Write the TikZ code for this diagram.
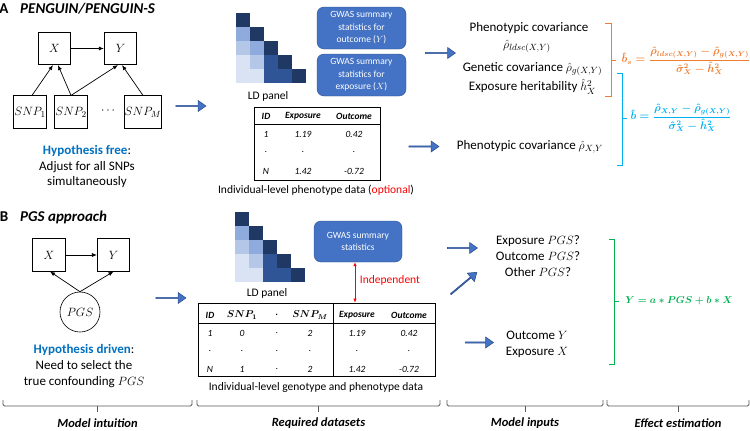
\documentclass[tikz,border=0pt]{standalone}
\usepackage{amsmath}
\usepackage{fontspec}
\setmainfont{Carlito}
\usetikzlibrary{arrows.meta,shapes.arrows,positioning}

\definecolor{hypblue}{HTML}{0070C0}
\definecolor{boxfill}{HTML}{4472C4}
\definecolor{boxedge}{HTML}{2F528F}
\definecolor{ldnavy}{HTML}{1F3864}
\definecolor{ldmid}{HTML}{2F5597}
\definecolor{ldlight}{HTML}{8FAADC}
\definecolor{ldpale}{HTML}{B4C7E7}
\definecolor{ldfaint}{HTML}{DAE3F3}
\definecolor{estorange}{HTML}{ED7D31}
\definecolor{estcyan}{HTML}{00B0F0}
\definecolor{estgreen}{HTML}{00B050}
\definecolor{bracegray}{HTML}{595959}

\newcommand{\fsz}[2]{\fontsize{#1}{#2}\selectfont}
\newcommand{\ldcells}{%
  \foreach \c/\r/\tone in {0/0/ldnavy, 0/1/ldlight, 1/1/ldnavy,
      0/2/ldpale, 1/2/ldlight, 2/2/ldnavy,
      0/3/ldfaint, 1/3/ldpale, 2/3/ldmid, 3/3/ldnavy,
      0/4/ldfaint, 1/4/ldfaint, 2/4/ldmid, 3/4/ldmid, 4/4/ldnavy}
    \fill[\tone] (14*\c,14*\r) rectangle ++(14,14);}
\newsavebox{\bsbox}
\newsavebox{\bbox}
\newsavebox{\pgsbox}
\newsavebox{\snponebox}
\newsavebox{\snpmbox}

\begin{document}
\sbox{\bsbox}{\fsz{10.5}{13}\color{estorange}\boldmath
  $\hat{b}_{s}=\displaystyle\frac{\hat{\rho}_{ldsc(X,Y)}-\hat{\rho}_{g(X,Y)}}{\hat{\sigma}^{2}_{X}-\hat{h}^{2}_{X}}$}%
\sbox{\bbox}{\fsz{10.5}{13}\color{estcyan}\boldmath
  $\hat{b}=\displaystyle\frac{\hat{\rho}_{X,Y}-\hat{\rho}_{g(X,Y)}}{\hat{\sigma}^{2}_{X}-\hat{h}^{2}_{X}}$}%
\sbox{\pgsbox}{\fsz{10}{12}\color{estgreen}\boldmath$Y=a*PGS+b*X$}%
\sbox{\snponebox}{\fsz{10}{12}\boldmath$SNP_1$}%
\sbox{\snpmbox}{\fsz{10}{12}\boldmath$SNP_M$}%
\begin{tikzpicture}[x=1pt,y=-1pt,
    var/.style={draw, line width=0.6pt, minimum width=32.5pt, minimum height=32.5pt, inner sep=0pt, font=\fsz{12.5}{14}},
    causal/.style={-{Latex[length=5pt,width=4pt]}, line width=0.7pt},
    blockarrow/.style={single arrow, draw=boxedge, fill=boxfill, line width=0.6pt,
      minimum width=11pt, single arrow head extend=2.5pt, single arrow tip angle=70,
      minimum height=30pt, inner sep=0pt},
    gwas/.style={draw=boxedge, fill=boxfill, rounded corners=7pt, text=white, align=center,
      minimum width=89pt, minimum height=42pt, inner sep=1pt, font=\fsz{9.5}{12.5}},
    bodytext/.style={font=\fsz{13}{15.5}, align=center, inner sep=0pt},
    tabcell/.style={font=\fsz{9.5}{11}\itshape, inner sep=0pt},
    tabhead/.style={font=\fsz{9.5}{11}\bfseries\itshape, inner sep=0pt},
    captext/.style={font=\fsz{11.5}{14}, inner sep=0pt},
    colhead/.style={font=\fsz{12.5}{15}\bfseries\itshape, inner sep=0pt},
    brace/.style={draw=bracegray, line width=0.8pt, rounded corners=1.5pt},
    bracket/.style={line width=0.9pt},
    formula/.style={inner sep=0pt},
  ]
  \useasboundingbox (0,0) rectangle (750,431);

  % panel A: model intuition
  \node[font=\fsz{15}{18}\bfseries, inner sep=0pt] (labA) at (4,8.5) {A};
  \node[font=\fsz{15}{18}\bfseries\itshape, anchor=west, inner sep=0pt] (titleA) at (20,8.5) {PENGUIN/PENGUIN-S};
  \node[var] (X) at (54.5,48.5) {$X$};
  \node[var] (Y) at (120.5,48.5) {$Y$};
  \node[var] (snp1) at (30,112) {$SNP_1$};
  \node[var] (snp2) at (71,112) {$SNP_2$};
  \node[font=\fsz{12.5}{14}, inner sep=0pt] (dots) at (109,111) {$\cdots$};
  \node[var] (snpM) at (143,112) {$SNP_M$};
  \draw[causal] (X) -- (Y);
  \draw[causal] ([xshift=2pt]snp1.north) -- ([xshift=-1.5pt]X.south);
  \draw[causal] (snp2.north) -- ([xshift=3.5pt]X.south);
  \draw[causal] (snp2.north) -- ([xshift=-2.5pt]Y.south);
  \draw[causal] (snpM.north) -- ([xshift=1.5pt]Y.south);
  \node[bodytext] (hypA) at (87,166.5)
    {\textcolor{hypblue}{\bfseries Hypothesis free}:\\Adjust for all SNPs\\simultaneously};
  \node[blockarrow] (arrA1) at (190.5,106) {};

  % panel A: required datasets
  \begin{scope}[shift={(236,13)}]
    \ldcells
  \end{scope}
  \node[captext] (ldA) at (268,96) {LD panel};
  \node[gwas] (gwasY) at (361.5,28) {GWAS summary\\statistics for\\outcome ($Y$)};
  \node[gwas] (gwasX) at (361.5,75) {GWAS summary\\statistics for\\exposure ($X$)};
  \node[draw, line width=0.8pt, minimum width=126pt, minimum height=73pt, inner sep=0pt] (tabA) at (317,143.5) {};
  \draw[line width=0.8pt] (254,124.5) -- (380,124.5);
  \foreach \x/\txt [count=\i] in {266/ID, 303/Exposure, 354/Outcome}
    \node[tabhead] (ta-h\i) at (\x,116) {\txt};
  \foreach \x/\v [count=\i] in {266/1, 303/1.19, 354/0.42}
    \node[tabcell] (ta-a\i) at (\x,134) {\v};
  \foreach \x [count=\i] in {266,303,354}
    \node[tabcell] (ta-b\i) at (\x,152) {.};
  \foreach \x/\v [count=\i] in {266/N, 303/1.42, 354/-0.72}
    \node[tabcell] (ta-c\i) at (\x,171) {\v};
  \node[captext] (capA) at (316,190) {Individual-level phenotype data (\textcolor{red}{optional})};

  % panel A: model inputs and estimation
  \node[blockarrow] (arrA2) at (440,53) {};
  \node[blockarrow] (arrA3) at (423.5,146.5) {};
  \node[bodytext] (phenA) at (529,28) {Phenotypic covariance};
  \node[bodytext] (ldsc) at (527,46.5) {$\hat\rho_{ldsc(X,Y)}$};
  \node[bodytext] (genA) at (532.5,69) {Genetic covariance $\hat\rho_{g(X,Y)}$};
  \node[bodytext] (herA) at (532.5,86.5) {Exposure heritability $\hat h^2_X$};
  \node[bodytext] (phenB) at (530,146.5) {Phenotypic covariance $\hat\rho_{X,Y}$};
  \draw[bracket, estorange] (605,23) -- (611,23) -- (611,96) -- (605,96);
  \draw[bracket, estorange] (611,60) -- (616,60);
  \node[formula] (estbs) at (686,61) {\usebox{\bsbox}};
  \draw[bracket, estcyan] (617,73) -- (622,73) -- (622,165) -- (617,165);
  \draw[bracket, estcyan] (622,118) -- (627,118);
  \node[formula] (estb) at (681,118) {\usebox{\bbox}};

  % panel B: model intuition
  \node[font=\fsz{15}{18}\bfseries, inner sep=0pt] (labB) at (4,217) {B};
  \node[font=\fsz{15}{18}\bfseries\itshape, anchor=west, inner sep=0pt] (titleB) at (20,217) {PGS approach};
  \node[var] (Xb) at (49,255) {$X$};
  \node[var] (Yb) at (113.5,255) {$Y$};
  \node[draw, circle, line width=0.6pt, minimum size=40pt, inner sep=0pt, font=\fsz{12.5}{14}] (pgs) at (80,312) {$PGS$};
  \draw[causal] (Xb) -- (Yb);
  \draw[causal] (pgs.north) -- ([xshift=1pt]Xb.south);
  \draw[causal] (pgs.north) -- (Yb.south);
  \node[bodytext, font=\fsz{13}{16}] (hypB) at (84,366)
    {\textcolor{hypblue}{\bfseries Hypothesis driven}:\\Need to select the\\true confounding $PGS$};
  \node[blockarrow] (arrB1) at (170.5,298) {};

  % panel B: required datasets
  \begin{scope}[shift={(235,212)}]
    \ldcells
  \end{scope}
  \node[captext] (ldB) at (267,293) {LD panel};
  \node[gwas, minimum width=88pt, minimum height=41pt] (gwasB) at (358,241.5) {GWAS summary\\statistics};
  \node[draw, line width=0.8pt, minimum width=237pt, minimum height=73pt, inner sep=0pt] (tabB) at (316.5,339.5) {};
  \draw[line width=0.8pt] (198,323) -- (435,323);
  \draw[line width=0.8pt] (333,303) -- (333,376);
  \draw[red, line width=0.7pt, {Latex[length=4pt,width=3.5pt]}-{Latex[length=4pt,width=3.5pt]}]
    ([xshift=-3pt]gwasB.south) -- ([xshift=-3pt]gwasB.south |- tabB.north);
  \node[font=\fsz{11.5}{14}, text=red, inner sep=0pt] (indep) at (390,280) {Independent};
  \foreach \x/\txt [count=\i] in {210/ID, 277/., 357/Exposure, 409/Outcome}
    \node[tabhead] (tb-h\i) at (\x,315) {\txt};
  \node[formula] (tb-snp1) at (242,315) {\usebox{\snponebox}};
  \node[formula] (tb-snpM) at (310,315) {\usebox{\snpmbox}};
  \foreach \x/\v [count=\i] in {210/1, 242/0, 277/., 310/2, 357/1.19, 409/0.42}
    \node[tabcell] (tb-a\i) at (\x,333) {\v};
  \foreach \x [count=\i] in {210,242,277,310,357,409}
    \node[tabcell] (tb-b\i) at (\x,351) {.};
  \foreach \x/\v [count=\i] in {210/N, 242/1, 277/., 310/2, 357/1.42, 409/-0.72}
    \node[tabcell] (tb-c\i) at (\x,369) {\v};
  \node[captext] (capB) at (316,387) {Individual-level genotype and phenotype data};

  % panel B: model inputs and estimation
  \node[blockarrow] (arrB2) at (462,248) {};
  \node[blockarrow, rotate=40, minimum height=34pt] (arrB3) at (463.5,283.5) {};
  \node[blockarrow, minimum height=28pt] (arrB4) at (479,342.5) {};
  \node[bodytext, font=\fsz{13}{16}] (pgsq) at (538,256) {Exposure $PGS$?\\Outcome $PGS$?\\Other $PGS$?};
  \node[bodytext, font=\fsz{13}{16}] (outexp) at (537,344) {Outcome $Y$\\Exposure $X$};
  \draw[bracket, estgreen] (609,239) -- (614,239) -- (614,364) -- (609,364);
  \draw[bracket, estgreen] (614,301) -- (619,301);
  \node[formula] (estmodel) at (679,301) {\usebox{\pgsbox}};

  % column braces
  \foreach \l/\r/\txt [count=\i] in {3/192/Model intuition, 197/440/Required datasets,
      447/603/Model inputs, 607/749/Effect estimation} {
    \draw[brace] (\l,400) -- (\l,406) -- (\r,406) -- (\r,400);
    \draw[brace] ({(\l+\r)/2},406) -- ++(0,6);
    \node[colhead] (col\i) at ({(\l+\r)/2},423) {\txt};
  }
\end{tikzpicture}
\end{document}
